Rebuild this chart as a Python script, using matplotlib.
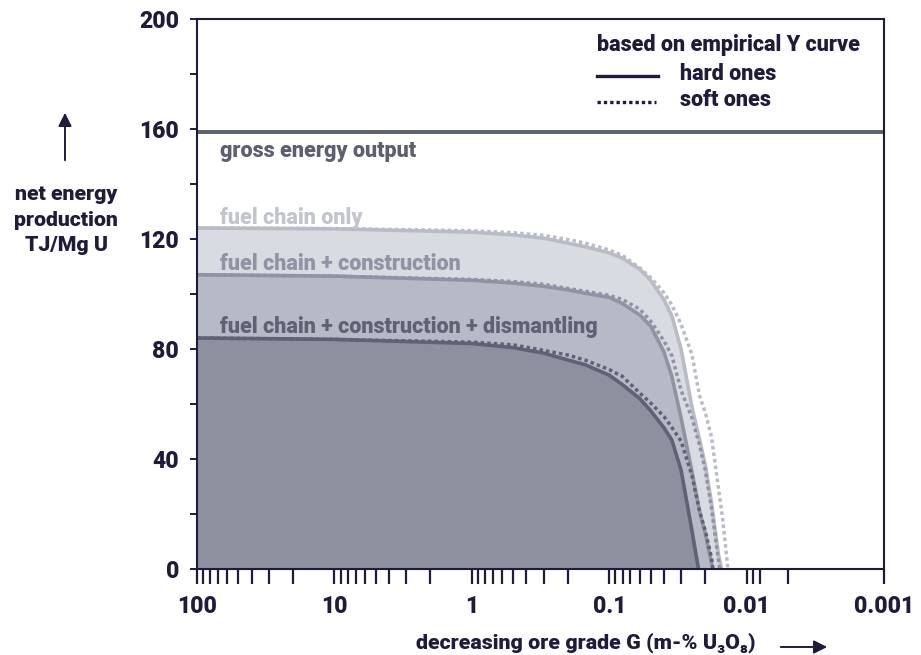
import matplotlib
matplotlib.use("Agg")
import matplotlib.pyplot as plt
from matplotlib.lines import Line2D
from matplotlib.patches import FancyArrowPatch

plt.rcParams['font.family'] = ['Roboto', 'DejaVu Sans']
plt.rcParams['font.weight'] = 'heavy'

# ore grade (m-% U3O8) and net energy (TJ/Mg U)
# fuel chain only
fuel_hard_g = [100, 10, 1, 0.5, 0.3, 0.2, 0.15, 0.1, 0.08, 0.06, 0.05, 0.04, 0.035, 0.03, 0.025, 0.022, 0.02, 0.018, 0.016, 0.0152]
fuel_hard_v = [124, 123.7, 122.5, 121.5, 120.3, 118.5, 117.2, 115, 113, 109, 105, 98, 92, 80, 59, 47, 38, 24, 5, 0]
fuel_soft_g = [100, 10, 1, 0.5, 0.3, 0.2, 0.15, 0.1, 0.08, 0.06, 0.05, 0.04, 0.035, 0.03, 0.025, 0.022, 0.02, 0.018, 0.016, 0.015, 0.014, 0.0137]
fuel_soft_v = [124, 123.8, 123, 122.3, 121.3, 119.8, 118.5, 116, 114, 109.5, 106, 100.5, 96, 89, 78, 63, 57, 48, 29, 19, 5, 0]

# fuel chain + construction
constr_hard_g = [100, 10, 1, 0.5, 0.3, 0.2, 0.15, 0.1, 0.08, 0.06, 0.05, 0.04, 0.035, 0.03, 0.025, 0.022, 0.02, 0.018, 0.0176]
constr_hard_v = [107, 106.5, 105, 104, 102.8, 101.5, 100.3, 98.8, 96.5, 92.4, 88.4, 79, 70, 55, 35.5, 21, 13, 2, 0]
constr_soft_g = [100, 10, 1, 0.5, 0.3, 0.2, 0.15, 0.1, 0.08, 0.06, 0.05, 0.04, 0.035, 0.03, 0.025, 0.022, 0.02, 0.018, 0.016, 0.0157]
constr_soft_v = [107, 106.5, 105.3, 104.5, 103.5, 102, 101, 99.5, 98, 94.5, 90.2, 83, 77.6, 65, 55, 45, 36, 22, 3, 0]

# fuel chain + construction + dismantling
dism_hard_g = [100, 10, 1, 0.5, 0.3, 0.2, 0.15, 0.1, 0.08, 0.06, 0.05, 0.04, 0.035, 0.03, 0.025, 0.0224]
dism_hard_v = [84, 83.5, 82, 80.5, 78.5, 76, 74.3, 70.5, 67, 62, 57.6, 51.4, 46.9, 36, 14, 0]
dism_soft_g = [100, 10, 1, 0.5, 0.3, 0.2, 0.15, 0.1, 0.08, 0.06, 0.05, 0.04, 0.035, 0.03, 0.025, 0.022, 0.02, 0.018, 0.0176]
dism_soft_v = [84, 83.5, 82.5, 81.5, 79.5, 77.8, 76, 72.5, 70, 64, 60.4, 55.5, 51.5, 46.5, 34, 21, 14, 4, 0]

gross_output = 159

x_major = [100, 10, 1, 0.1, 0.01, 0.001]
x_major_labels = ['100', '10', '1', '0.1', '0.01', '0.001']
y_major = [0, 40, 80, 120, 160, 200]

ink = '#1f1c3b'
light_fill, light_line = '#d9dbe3', '#b9bbc7'
mid_fill, mid_line = '#b6b9c6', '#8f93a3'
dark_fill, dark_line = '#8c909f', '#5f6274'
gross_col = '#5c5f70'

fig = plt.figure(figsize=(9.21, 6.55), dpi=100)
ax = fig.add_axes([197 / 921, 86 / 655, 687 / 921, 550 / 655])

# filled areas under the hard-ones curves
ax.fill_between(fuel_hard_g, fuel_hard_v, 0, color=light_fill, lw=0, zorder=1)
ax.fill_between(constr_hard_g, constr_hard_v, 0, color=mid_fill, lw=0, zorder=2)
ax.fill_between(dism_hard_g, dism_hard_v, 0, color=dark_fill, lw=0, zorder=3)

dots = (0, (1, 0.9))
ax.plot(fuel_soft_g, fuel_soft_v, color=light_line, lw=2.5, ls=dots, zorder=4)
ax.plot(fuel_hard_g, fuel_hard_v, color=light_line, lw=2.6, zorder=5)
ax.plot(constr_soft_g, constr_soft_v, color=mid_line, lw=2.5, ls=dots, zorder=6)
ax.plot(constr_hard_g, constr_hard_v, color=mid_line, lw=2.6, zorder=7)
ax.plot(dism_soft_g, dism_soft_v, color=dark_line, lw=2.5, ls=dots, zorder=8)
ax.plot(dism_hard_g, dism_hard_v, color=dark_line, lw=2.6, zorder=9)

ax.axhline(gross_output, color=gross_col, lw=2.8, zorder=10)

ax.set_xscale('log')
ax.set_xlim(100, 0.001)
ax.set_ylim(0, 200)

ax.set_xticks(x_major)
ax.set_xticklabels(x_major_labels)
minor = []
for dec in [10, 1, 0.1, 0.01]:
    minor += [dec * k for k in range(2, 10)]
minor += [0.009, 0.008, 0.005]
ax.set_xticks(minor, minor=True)
ax.xaxis.set_minor_formatter(plt.NullFormatter())
ax.set_yticks(range(0, 201, 20))
ax.set_yticklabels([str(v) if v in y_major else '' for v in range(0, 201, 20)])

ax.tick_params(axis='x', which='both', direction='out', length=11, width=1.6,
               color=ink, labelsize=16.5, labelcolor=ink, pad=8)
ax.tick_params(axis='y', direction='out', length=5, width=1.4,
               color=ink, labelsize=16.5, labelcolor=ink, pad=8)
for s in ax.spines.values():
    s.set_color(ink)
    s.set_linewidth(1.5)
    s.set_zorder(12)

# curve labels (baselines sit just above each line)
lab_x = 68
ax.text(lab_x, 149.8, 'gross energy output', color=gross_col, fontsize=15.5,
        va='baseline', zorder=11)
ax.text(lab_x, 125.5, 'fuel chain only', color='#c2c4ce', fontsize=15.5,
        va='baseline', zorder=11)
ax.text(lab_x, 108.6, 'fuel chain + construction', color=mid_line, fontsize=15.5,
        va='baseline', zorder=11)
ax.text(lab_x, 86, 'fuel chain + construction + dismantling', color=dark_line,
        fontsize=15.5, va='baseline', zorder=11)

# legend
fig.text(597 / 921, 1 - 51 / 655, 'based on empirical Y curve', color=ink,
         fontsize=15.5, va='baseline')
fig.text(680 / 921, 1 - 80 / 655, 'hard ones', color=ink, fontsize=15.5, va='baseline')
fig.text(680 / 921, 1 - 106 / 655, 'soft ones', color=ink, fontsize=15.5, va='baseline')
fig.add_artist(Line2D([597 / 921, 658 / 921], [1 - 76 / 655] * 2, color=ink, lw=2.4))
fig.add_artist(Line2D([597 / 921, 656 / 921], [1 - 102 / 655] * 2, color=ink, lw=2.4,
                      ls=(0, (1, 0.9))))

# axis titles with arrows
fig.text(66 / 921, 1 - 220 / 655, 'net energy\nproduction\nTJ/Mg U', color=ink,
         fontsize=15.3, ha='center', va='center', linespacing=1.45)
fig.add_artist(FancyArrowPatch((65 / 921, 1 - 163 / 655), (65 / 921, 1 - 110 / 655),
               transform=fig.transFigure, arrowstyle='-|>', mutation_scale=20,
               color=ink, lw=1.4))
fig.text(586 / 921, 1 - 643 / 655, 'decreasing ore grade G (m-% U₃O₈)', color=ink,
         fontsize=15.4, ha='center', va='center')
fig.add_artist(FancyArrowPatch((778 / 921, 1 - 647 / 655), (830 / 921, 1 - 647 / 655),
               transform=fig.transFigure, arrowstyle='-|>', mutation_scale=20,
               color=ink, lw=1.4))

fig.savefig('out.png', dpi=100)
